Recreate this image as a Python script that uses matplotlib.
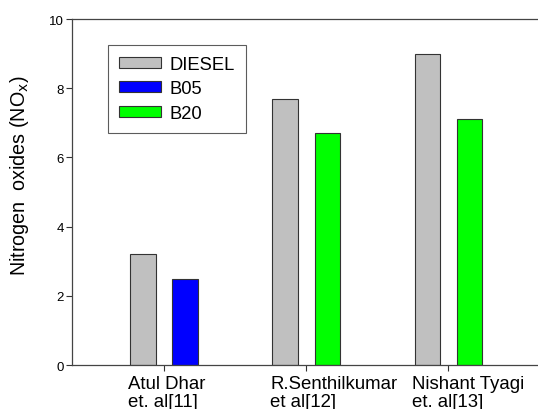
import numpy as np
import matplotlib
matplotlib.use("Agg")
import matplotlib.pyplot as plt
import matplotlib.transforms as mtransforms
from matplotlib.patches import Patch

plt.rcParams["font.family"] = ["Liberation Sans", "DejaVu Sans"]

# data
studies = ["Atul Dhar\net. al[11]", "R.Senthilkumar\net al[12]", "Nishant Tyagi\net. al[13]"]
diesel = [3.2, 7.7, 9.0]
blend_vals = [2.5, 6.7, 7.1]
blend_names = ["B05", "B20", "B20"]

colors = {"DIESEL": "#c0c0c0", "B05": "#0000ff", "B20": "#00ff00"}

fig = plt.figure(figsize=(5.38, 4.10), dpi=100)
ax = fig.add_axes([0.1338, 0.1073, 0.8662, 0.8439])

x = np.arange(len(studies))
w = 0.18
off = 0.148

ax.bar(x - off, diesel, width=w, color=colors["DIESEL"], edgecolor="#333333",
       linewidth=0.8, label="DIESEL")
for i, (v, n) in enumerate(zip(blend_vals, blend_names)):
    ax.bar(x[i] + off, v, width=w, color=colors[n], edgecolor="#333333", linewidth=0.8)

# legend handles
handles = [Patch(facecolor=colors[k], edgecolor="#333333", linewidth=0.8)
           for k in ["DIESEL", "B05", "B20"]]
leg = ax.legend(handles, ["DIESEL", "B05", "B20"], loc="upper left",
                bbox_to_anchor=(0.077, 0.925), fontsize=13.2, frameon=True,
                fancybox=False, handlelength=2.3, handleheight=0.55,
                borderpad=0.6, labelspacing=0.4, handletextpad=0.45,
                borderaxespad=0)
leg.get_frame().set_edgecolor("#333333")
leg.get_frame().set_linewidth(0.8)

ax.set_xlim(-0.648, 2.63)
ax.set_ylim(0, 10)
ax.set_yticks([0, 2, 4, 6, 8, 10])
ax.tick_params(axis="y", labelsize=9.5, length=4, width=0.8, color="#333333", pad=2)
ax.set_xticks(x)
ax.set_xticklabels(studies, fontsize=13.4, ha="left", linespacing=1.1)
ax.tick_params(axis="x", length=4, width=0.8, color="#333333", pad=3)
shift = mtransforms.ScaledTranslation(-0.36, 0, fig.dpi_scale_trans)
for lab in ax.get_xticklabels():
    lab.set_transform(lab.get_transform() + shift)

ax.set_ylabel("Nitrogen  oxides (NO$_{\\mathrm{x}}$)", fontsize=14.2)
ax.yaxis.set_label_coords(-0.088, 0.55)

for s in ["left", "bottom", "top"]:
    ax.spines[s].set_color("#444444")
    ax.spines[s].set_linewidth(0.9)
ax.spines["right"].set_visible(False)

fig.savefig("out.png", dpi=100)
